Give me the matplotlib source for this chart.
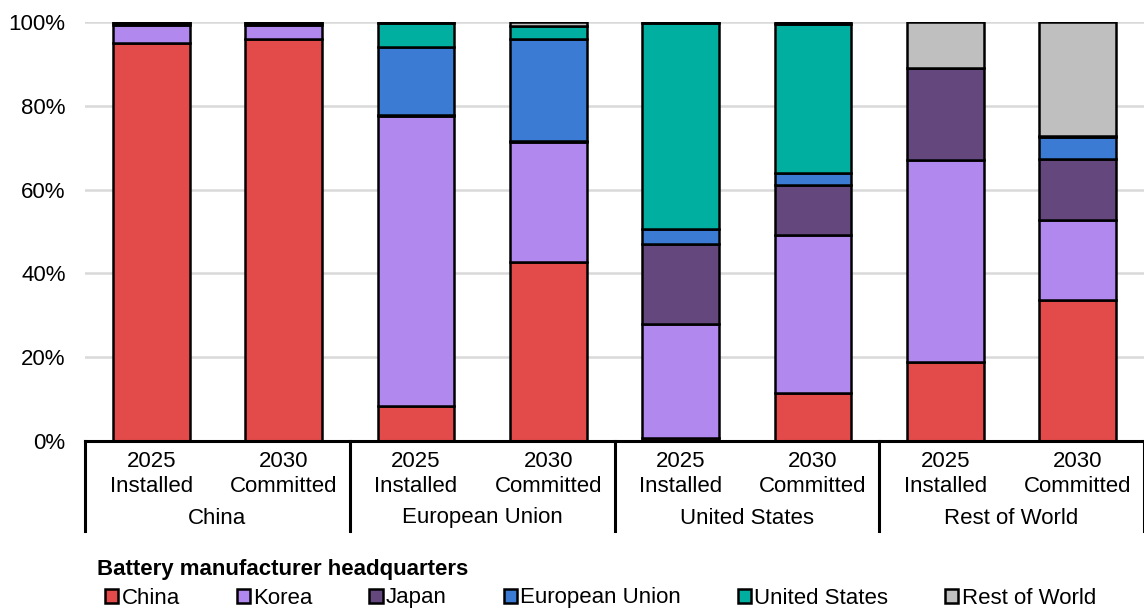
import numpy as np
import matplotlib
matplotlib.use("Agg")
import matplotlib.pyplot as plt
from matplotlib.transforms import blended_transform_factory

# =====================
# 全局设置
# =====================
plt.rcParams['font.family'] = ['Liberation Sans', 'DejaVu Sans']

# =====================
# 数据
# =====================
regions = ["China", "European Union", "United States", "Rest of World"]
bar_labels = ["2025\nInstalled", "2030\nCommitted"] * 4

series_names = ["China", "Korea", "Japan", "European Union", "United States", "Rest of World"]
colors = ["#E34A4A", "#B088EE", "#63477D", "#3C7BD4", "#00AFA0", "#BFBFBF"]

# shares (%) per bar, order: CN25, CN30, EU25, EU30, US25, US30, RoW25, RoW30
china = [95.0, 96.0, 8.4, 42.7, 0.7, 11.5, 18.9, 33.7]
korea = [4.2, 3.2, 69.2, 28.7, 27.3, 37.6, 48.2, 19.0]
japan = [0.6, 0.6, 0.3, 0.2, 19.0, 12.0, 21.9, 14.6]
eu = [0.1, 0.1, 16.2, 24.4, 3.5, 2.9, 0.0, 5.3]
us = [0.1, 0.1, 5.7, 3.1, 49.3, 35.5, 0.0, 0.3]
row = [0.0, 0.0, 0.2, 1.0, 0.2, 0.5, 11.0, 27.1]

data = [china, korea, japan, eu, us, row]

# =====================
# Figure / Axes
# =====================
fig = plt.figure(figsize=(11.44, 6.10), dpi=100)
ax = fig.add_axes([85 / 1144, 1 - 441 / 610, 1059 / 1144, 419 / 610])

x = np.arange(len(bar_labels))
bottom = np.zeros(len(x))
for name, vals, c in zip(series_names, data, colors):
    v = np.array(vals) / 100
    ax.bar(x, v, bottom=bottom, width=0.58, color=c, edgecolor="black",
           linewidth=1.8, label=name, zorder=3)
    bottom += v

ax.set_xlim(-0.5, len(x) - 0.5)
ax.set_ylim(0, 1)
ax.set_yticks(np.arange(0, 1.01, 0.2))
ax.set_yticklabels([f"{int(round(t * 100))}%" for t in np.arange(0, 1.01, 0.2)])
ax.tick_params(axis='y', length=0, pad=14, labelsize=16)
ax.set_xticks([])
ax.grid(axis='y', color="#D9D9D9", linewidth=1.8, zorder=0)
for s in ["left", "right", "top"]:
    ax.spines[s].set_visible(False)
ax.spines["bottom"].set_linewidth(2.2)
ax.spines["bottom"].set_zorder(4)

# =====================
# 多级 x 轴标签
# =====================
trans = blended_transform_factory(ax.transData, ax.transAxes)
px = 1 / 419
for i, lab in enumerate(bar_labels):
    ax.text(i, -33 * px, lab, transform=trans, ha="center", va="center",
            fontsize=16, linespacing=1.3)
for g, reg in enumerate(regions):
    ax.text(2 * g + 0.5, -77 * px, reg, transform=trans, ha="center",
            va="center", fontsize=16)
for g in range(5):
    ax.plot([2 * g - 0.5, 2 * g - 0.5], [0, -90 * px], color="black",
            linewidth=2.2, transform=trans, clip_on=False)

# =====================
# 图例
# =====================
fig.text(97 / 1144, 1 - 569 / 610, "Battery manufacturer headquarters",
         fontsize=16, fontweight="bold", ha="left", va="center")
leg = fig.legend(loc="center left", bbox_to_anchor=(94 / 1144, 1 - 598 / 610),
                 ncol=6, frameon=False, fontsize=16, handlelength=0.6,
                 handleheight=0.6, handletextpad=0.15, columnspacing=2.55,
                 borderpad=0, labelspacing=0)
for h in leg.legend_handles:
    h.set_linewidth(1.8)

fig.savefig("out.png", dpi=100)
